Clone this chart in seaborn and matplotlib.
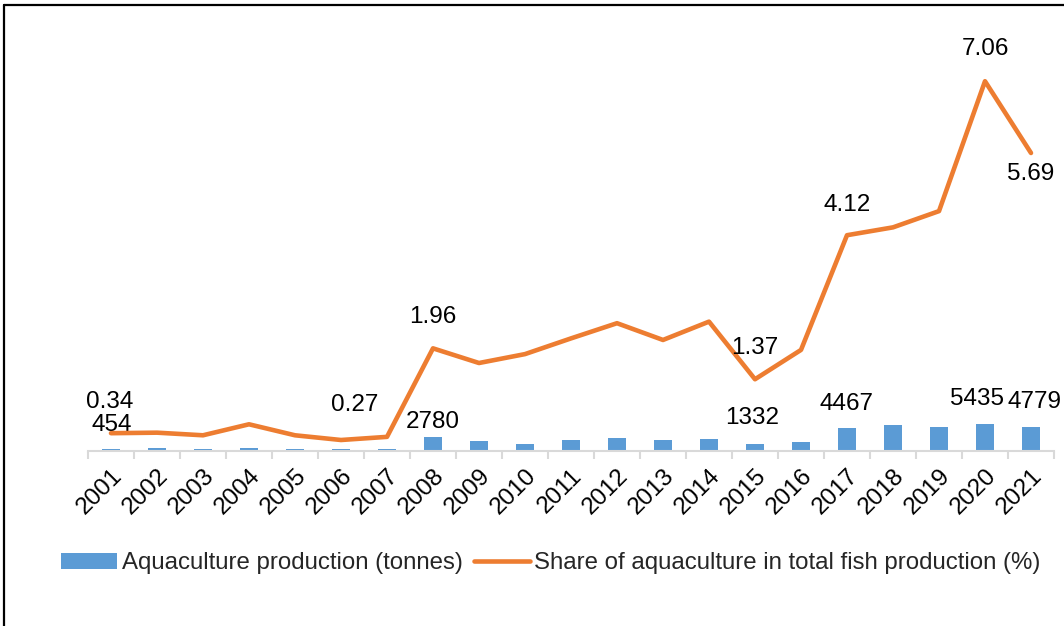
import numpy as np
import pandas as pd
import matplotlib
matplotlib.use("Agg")
import matplotlib.pyplot as plt
from matplotlib.lines import Line2D
import seaborn as sns

years = [str(y) for y in range(2001, 2022)]
production = [454, 500, 450, 600, 400, 300, 400, 2780, 2000, 1450, 2200, 2550,
              2100, 2350, 1332, 1850, 4467, 5150, 4800, 5435, 4779]
share = [0.34, 0.35, 0.30, 0.51, 0.30, 0.21, 0.27, 1.96, 1.68, 1.85, 2.15, 2.44,
         2.12, 2.47, 1.37, 1.93, 4.12, 4.27, 4.58, 7.06, 5.69]

# labelled points and their label offsets (pixels)
bar_labels = {"2001": (1, 24), "2008": (0, 15), "2015": (-3, 26), "2017": (0, 24),
              "2020": (-8, 25), "2021": (3, 25)}
line_labels = {"2001": (-1, 31), "2007": (-32, 32), "2008": (0, 31), "2015": (0, 31),
               "2017": (0, 30), "2020": (0, 32), "2021": (0, -21)}

sns.set_theme(style="white")
plt.rcParams['font.family'] = ['Liberation Sans', 'DejaVu Sans']

df = pd.DataFrame({"year": years, "production": production, "share": share})

fig = plt.figure(figsize=(10.64, 6.26), dpi=100)
ax = fig.add_axes([88 / 1064, 1 - 451 / 626, 966 / 1064, 419 / 626])

bar_color = "#5B9BD5"
line_color = "#ED7D31"

sns.barplot(data=df, x="year", y="production", color=bar_color, width=0.4,
            saturation=1, ax=ax, linewidth=0,
            label="Aquaculture production (tonnes)")
ax.set_ylim(0, 83000)
ax.set_xlim(-0.5, len(years) - 0.5)

ax2 = ax.twinx()
pos = np.arange(len(years))
sns.lineplot(x=pos, y=df["share"], color=line_color, linewidth=3.3, ax=ax2,
             label="Share of aquaculture in total fish production (%)")
ax2.set_ylim(0, 8)
ax2.set_xlim(-0.5, len(years) - 0.5)

# labels
for i, yr in enumerate(years):
    if yr in bar_labels:
        ax.annotate(f"{production[i]}", (i, production[i]), xytext=bar_labels[yr],
                    textcoords="offset pixels", ha="center", va="center",
                    fontsize=17.5, color="black")
    if yr in line_labels:
        ax2.annotate(f"{share[i]:.2f}", (i, share[i]), xytext=line_labels[yr],
                     textcoords="offset pixels", ha="center", va="center",
                     fontsize=17.5, color="black")

for a in (ax, ax2):
    for s in ("top", "right", "left"):
        a.spines[s].set_visible(False)
    a.set_ylabel("")
    a.set_xlabel("")
    a.set_yticks([])
    a.grid(False)
ax.spines["bottom"].set_color("#D9D9D9")
ax.spines["bottom"].set_linewidth(1.5)
ax2.spines["bottom"].set_visible(False)

ax.set_xticks(pos)
ax.set_xticklabels(years, rotation=45, ha="right", rotation_mode="anchor",
                   fontsize=17.5, color="black")
ax.tick_params(axis="x", which="major", length=0, pad=10)
ax.set_xticks(np.arange(-0.5, len(years)), minor=True)
ax.tick_params(axis="x", which="minor", length=6, width=1.5, color="#D9D9D9",
               direction="out", bottom=True)

h1, l1 = ax.get_legend_handles_labels()
h2, l2 = ax2.get_legend_handles_labels()
if ax.get_legend():
    ax.get_legend().remove()
if ax2.get_legend():
    ax2.get_legend().remove()
fig.legend(h1 + h2, l1 + l2, loc="center", bbox_to_anchor=(0.518, 0.1), ncol=2,
           frameon=False, fontsize=17.3, handlelength=2.3, handletextpad=0.2,
           columnspacing=0.5)

# outer frame (left and top)
fig.add_artist(Line2D([4 / 1064, 4 / 1064], [0, 1 - 5 / 626], transform=fig.transFigure,
                      color="black", linewidth=1.6))
fig.add_artist(Line2D([4 / 1064, 1], [1 - 5 / 626, 1 - 5 / 626], transform=fig.transFigure,
                      color="black", linewidth=1.6))

fig.savefig("out.png", dpi=100)
